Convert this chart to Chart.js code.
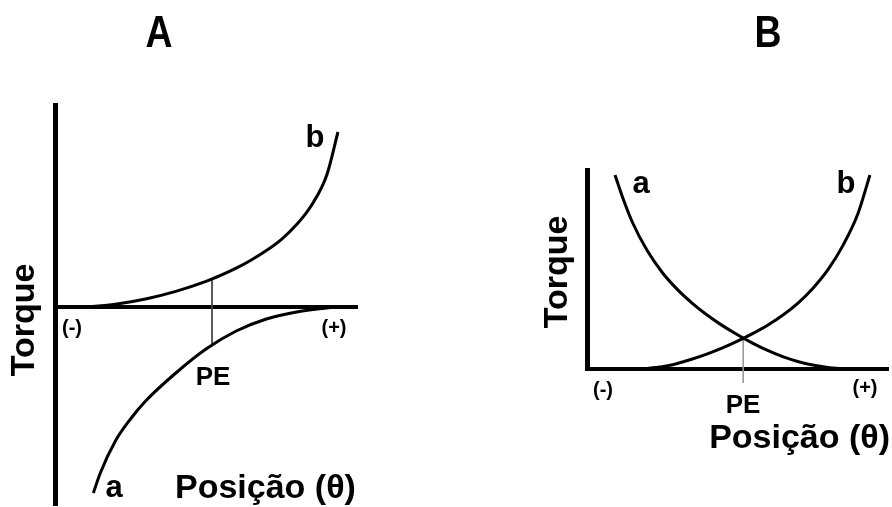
<!DOCTYPE html>
<html>
<head>
<meta charset="utf-8">
<script src="https://cdn.jsdelivr.net/npm/chart.js@4.4.1/dist/chart.umd.min.js"></script>
<style>
  html, body { margin: 0; padding: 0; background: #fff; }
  body { width: 892px; height: 507px; position: relative; overflow: hidden; }
  .panel { position: absolute; top: 0; width: 446px; height: 507px; }
  #wrapA { left: 0; }
  #wrapB { left: 446px; }
</style>
</head>
<body>
<div class="panel" id="wrapA"><canvas id="chartA" width="446" height="507"></canvas></div>
<div class="panel" id="wrapB"><canvas id="chartB" width="446" height="507"></canvas></div>
<script>
// ---------- Panel A data (position 0..100, torque -99..101) ----------
const posA_b    = [10, 20, 30, 40, 50, 55, 60, 65, 70, 75, 80, 85, 90, 93.7];
const torqueA_b = [0, 1.4, 4.0, 7.8, 12.8, 15.9, 19.4, 23.5, 28.2, 33.8, 41.2, 51, 66, 87.5];
const posA_a    = [12.7, 15, 20, 25, 30, 40, 50, 60, 70, 80, 90, 94];
const torqueA_a = [-93, -83, -67, -56, -47, -33, -21, -12, -6, -2.5, -0.5, 0];
const peA_pos    = [52, 52];
const peA_torque = [14.1, -19];

// ---------- Panel B data (position 0..100, torque 0..100) ----------
const posB_a    = [9.3, 12, 15, 20, 25, 30, 35, 40, 45, 50, 55, 60, 65, 70, 75, 80, 86];
const torqueB_a = [97.5, 85.5, 74, 59.5, 48.5, 40, 33, 27, 21.8, 17.2, 13.0, 9.3, 6.2, 3.8, 2.0, 0.8, 0];
const posB_b    = [16.5, 20, 25, 30, 35, 40, 45, 50, 55, 60, 65, 70, 75, 80, 85, 90, 94];
const torqueB_b = [0, 0.3, 1.1, 2.8, 5.0, 7.6, 10.6, 14.0, 17.8, 22.0, 27.0, 33.0, 40.5, 49.8, 62, 78, 97.5];
const peB_pos    = [51.9, 51.9];
const peB_torque = [15.4, -7];

const FONT = '"Liberation Sans", Arial, Helvetica, sans-serif';

function pts(xs, ys) { return xs.map((x, i) => ({ x: x, y: ys[i] })); }

const freeText = {
  id: 'freeText',
  afterDraw(chart, args, opts) {
    const ctx = chart.ctx;
    (opts.items || []).forEach(it => {
      ctx.save();
      ctx.font = it.font;
      ctx.fillStyle = it.color || '#000';
      ctx.textAlign = it.align || 'center';
      ctx.textBaseline = it.baseline || 'alphabetic';
      ctx.translate(it.x, it.y);
      if (it.rotate) ctx.rotate(it.rotate);
      if (it.sx) ctx.scale(it.sx, 1);
      ctx.fillText(it.text, 0, 0);
      ctx.restore();
    });
  }
};

function curve(data, extra) {
  return Object.assign({
    data: data,
    borderColor: '#000',
    borderWidth: 3,
    pointRadius: 0,
    pointHoverRadius: 0,
    fill: false,
    cubicInterpolationMode: 'monotone',
    clip: false
  }, extra || {});
}

function baseOptions(padding, xPos, yMin, yMax, items) {
  return {
    responsive: false,
    animation: false,
    events: [],
    layout: { padding: padding, autoPadding: false },
    plugins: {
      legend: { display: false },
      tooltip: { enabled: false },
      title: { display: false },
      freeText: { items: items }
    },
    scales: {
      x: {
        type: 'linear',
        min: 0, max: 100,
        position: xPos,
        grid: { display: false, drawTicks: false },
        ticks: { display: false },
        border: { display: true, color: '#000', width: 4 }
      },
      y: {
        type: 'linear',
        min: yMin, max: yMax,
        position: 'left',
        grid: { display: false, drawTicks: false },
        ticks: { display: false },
        border: { display: true, color: '#000', width: 5 }
      }
    }
  };
}

const bold = s => 'bold ' + s + 'px ' + FONT;

// ---------- Chart A ----------
new Chart(document.getElementById('chartA'), {
  type: 'line',
  data: {
    datasets: [
      curve(pts(posA_b, torqueA_b)),
      curve(pts(posA_a, torqueA_a)),
      curve(pts(peA_pos, peA_torque), { borderColor: '#444', borderWidth: 1, cubicInterpolationMode: 'default', tension: 0 })
    ]
  },
  options: baseOptions({ left: 55, right: 89, top: 105, bottom: 2 }, { y: 0 }, -99, 101, [
    { text: 'A', x: 159, y: 47, font: bold(44), sx: 0.85 },
    { text: 'Torque', x: 25, y: 320, font: bold(34), rotate: -Math.PI / 2, baseline: 'middle' },
    { text: '(-)', x: 72, y: 334, font: bold(20) },
    { text: '(+)', x: 334, y: 334, font: bold(20) },
    { text: 'PE', x: 213, y: 385, font: bold(26) },
    { text: 'a', x: 114, y: 497, font: bold(31) },
    { text: 'b', x: 315, y: 147, font: bold(31) },
    { text: 'Posição (θ)', x: 175, y: 498, font: bold(34), align: 'left' }
  ]),
  plugins: [freeText]
});

// ---------- Chart B ----------
new Chart(document.getElementById('chartB'), {
  type: 'line',
  data: {
    datasets: [
      curve(pts(posB_a, torqueB_a)),
      curve(pts(posB_b, torqueB_b)),
      curve(pts(peB_pos, peB_torque), { borderColor: '#999', borderWidth: 1, cubicInterpolationMode: 'default', tension: 0 })
    ]
  },
  options: baseOptions({ left: 141, right: 4, top: 170, bottom: 138 }, 'bottom', 0, 100, [
    { text: 'B', x: 322, y: 47, font: bold(44), sx: 0.85 },
    { text: 'Torque', x: 112, y: 272, font: bold(34), rotate: -Math.PI / 2, baseline: 'middle' },
    { text: '(-)', x: 157, y: 396, font: bold(20) },
    { text: '(+)', x: 419, y: 394, font: bold(20) },
    { text: 'PE', x: 297, y: 413, font: bold(26) },
    { text: 'a', x: 195, y: 193, font: bold(31) },
    { text: 'b', x: 400, y: 193, font: bold(31) },
    { text: 'Posição (θ)', x: 444, y: 448, font: bold(34), align: 'right' }
  ]),
  plugins: [freeText]
});
</script>
</body>
</html>
